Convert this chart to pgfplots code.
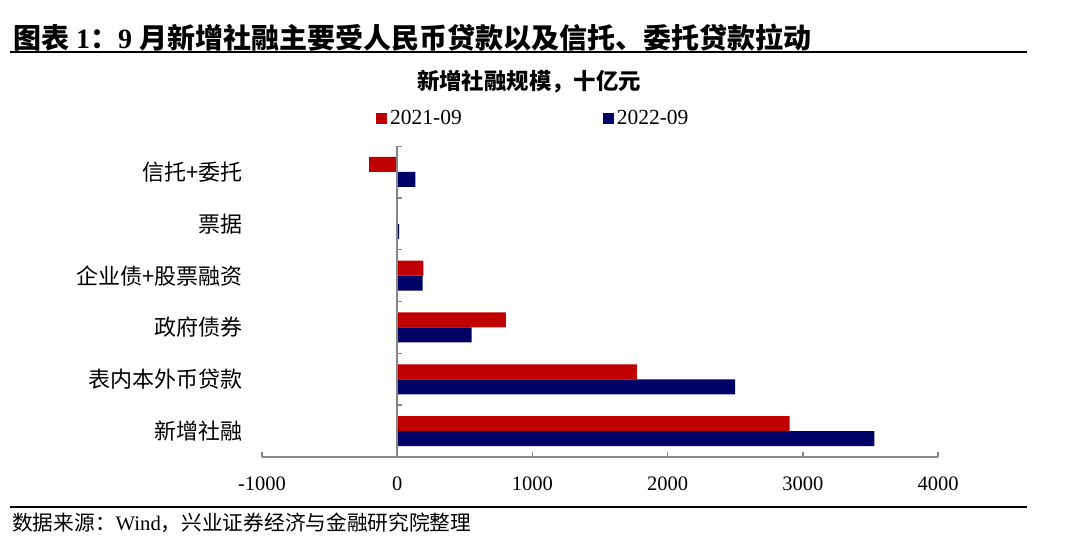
\documentclass[border=0pt]{standalone}
\usepackage{pgfplots}
\pgfplotsset{compat=1.18}
\usepackage{fontspec}
\setmainfont{Liberation Serif}
\newfontfamily\cjk{Noto Sans CJK SC}
\definecolor{barred}{RGB}{192,0,0}
\definecolor{barblue}{RGB}{0,0,102}
\definecolor{axgray}{RGB}{134,134,134}

\begin{document}
\begin{tikzpicture}
\path[use as bounding box] (0pt,0pt) rectangle (1065pt,558pt);

% header and footer
\node[anchor=west, inner sep=0pt, font=\bfseries\fontsize{28}{32}\selectfont] at (13pt,520pt)
  {{\cjk 图表} 1{\cjk ：}9 {\cjk 月新增社融主要受人民币贷款以及信托、委托贷款拉动}};
\draw[line width=2.5pt] (10pt,506pt) -- (1027pt,506pt);
\node[font=\bfseries\cjk\fontsize{22.4}{26}\selectfont, inner sep=0pt] at (529pt,476pt) {新增社融规模，十亿元};
\draw[line width=2pt] (10pt,51pt) -- (1027pt,51pt);
\node[anchor=west, inner sep=0pt, font=\fontsize{20.7}{24}\selectfont] at (12pt,35pt)
  {{\cjk 数据来源：}Wind{\cjk ，兴业证券经济与金融研究院整理}};

\begin{axis}[
    at={(262pt,101pt)}, anchor=south west,
    width=676pt, height=311pt, scale only axis,
    xmin=-1000, xmax=4000, ymin=-0.5, ymax=5.5,
    xbar, bar width=15pt,
    axis lines*=left,
    x axis line style={axgray, line width=1.5pt},
    y axis line style={draw=none},
    xtick={-1000,0,1000,2000,3000,4000},
    xtick style={axgray, line width=1.5pt},
    tick align=inside, major tick length=5pt,
    ytick={0,1,2,3,4,5},
    yticklabels={新增社融,表内本外币贷款,政府债券,企业债+股票融资,票据,信托+委托},
    ytick style={draw=none},
    yticklabel style={font=\cjk\fontsize{22}{26}\selectfont, anchor=east, inner sep=0pt, xshift=-19pt},
    xticklabel style={font=\fontsize{20.5}{24}\selectfont, yshift=-16pt},
    /pgf/number format/assume math mode=true,
    /pgf/number format/1000 sep={},
    legend columns=2,
    legend style={at={(0.1686,1.09)}, anchor=west, draw=none, fill=none, inner sep=0pt,
      font=\fontsize{21.5}{25}\selectfont, nodes={inner xsep=3pt, inner ysep=0pt},
      /tikz/every even column/.append style={column sep=138pt}},
    legend image code/.code={\fill[#1] (0pt,-5.5pt) rectangle (11pt,5.5pt);},
]
\addplot[fill=barred, draw=none, bar shift=7.5pt] coordinates {
  (2902,0) (1772,1) (804,2) (193,3) (0,4) (-207,5)};
\addplot[fill=barblue, draw=none, bar shift=-7.5pt] coordinates {
  (3529,0) (2500,1) (550,2) (188,3) (15,4) (135,5)};
\legend{2021-09,2022-09}
\draw[axgray, line width=1.5pt] (axis cs:0,-0.5) -- (axis cs:0,5.5);
\pgfplotsinvokeforeach{-0.5,0.5,1.5,2.5,3.5,4.5,5.5}{
  \draw[axgray, line width=1.5pt] (axis cs:0,#1) -- ++(5pt,0pt);
}
\end{axis}
\end{tikzpicture}
\end{document}
